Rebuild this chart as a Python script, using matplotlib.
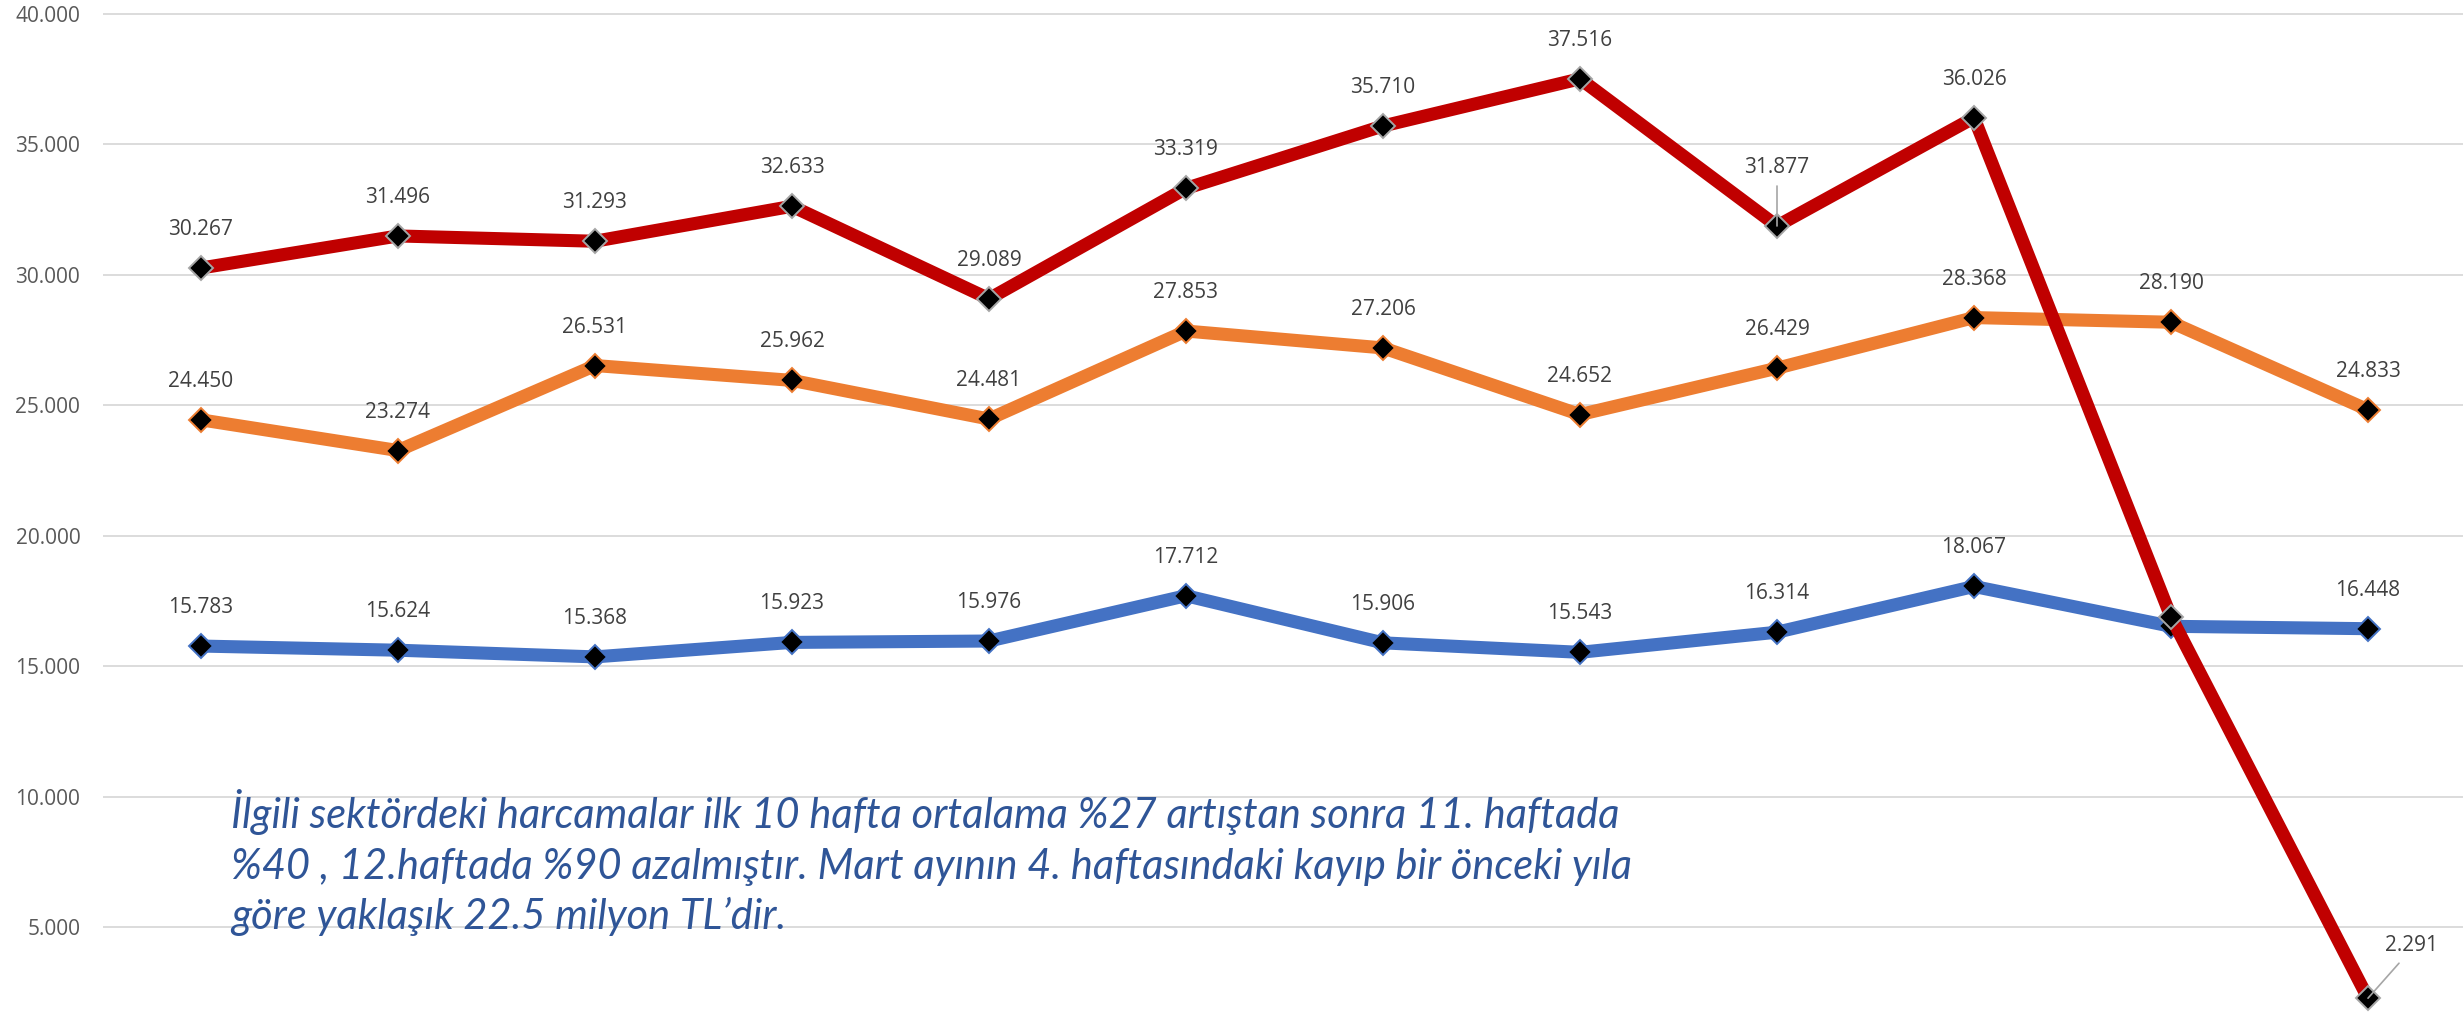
import matplotlib
matplotlib.use("Agg")
import matplotlib.pyplot as plt
from matplotlib.ticker import FixedLocator, FuncFormatter

# ---------------- data ----------------
weeks = list(range(1, 13))
red_vals = [30267, 31496, 31293, 32633, 29089, 33319, 35710, 37516, 31877, 36026, 16900, 2291]
orange_vals = [24450, 23274, 26531, 25962, 24481, 27853, 27206, 24652, 26429, 28368, 28190, 24833]
blue_vals = [15783, 15624, 15368, 15923, 15976, 17712, 15906, 15543, 16314, 18067, 16540, 16448]
red_show = [True] * 10 + [False, True]
orange_show = [True] * 12
blue_show = [True] * 10 + [False, True]
y_ticks = [5000, 10000, 15000, 20000, 25000, 30000, 35000, 40000]
note_lines = [
    "İlgili sektördeki harcamalar ilk 10 hafta ortalama %27 artıştan sonra 11. haftada",
    "%40 , 12.haftada %90 azalmıştır. Mart ayının 4. haftasındaki kayıp bir önceki yıla",
    "göre yaklaşık 22.5 milyon TL’dir.",
]

# ---------------- style ----------------
W, H = 2463, 1013
RED, ORANGE, BLUE = "#C00000", "#ED7D31", "#4472C4"
GRID = "#D9D9D9"
TICK_C = "#595959"
LAB_C = "#404040"
NOTE_C = "#2F5597"
NUM_FONT = "Open Sans"
NOTE_FONT = "Lato"
NUM_SIZE = 15

fmt = lambda v: f"{int(v):,}".replace(",", ".")

fig = plt.figure(figsize=(W / 100, H / 100), dpi=100)
ax = fig.add_axes([102.5 / W, 0, 2364 / W, 1])
ax.set_xlim(-0.5, 11.5)
ax.set_ylim(1724, 40536)

for s in ax.spines.values():
    s.set_visible(False)
ax.yaxis.set_major_locator(FixedLocator(y_ticks))
ax.yaxis.set_major_formatter(FuncFormatter(lambda v, p: fmt(v)))
ax.tick_params(axis="y", length=0, pad=16, labelsize=NUM_SIZE, labelcolor=TICK_C)
for t in ax.get_yticklabels():
    t.set_fontfamily(NUM_FONT)
ax.set_xticks([])
ax.grid(axis="y", color=GRID, linewidth=1.3)
ax.set_axisbelow(True)

xs = list(range(len(weeks)))
series = [
    (blue_vals, BLUE, BLUE, blue_show),
    (orange_vals, ORANGE, ORANGE, orange_show),
    (red_vals, RED, "#A5A5A5", red_show),
]
for vals, col, edge, show in series:
    ax.plot(xs, vals, color=col, linewidth=9.4, solid_joinstyle="round",
            solid_capstyle="butt", marker="D", markersize=12,
            markerfacecolor="black", markeredgecolor=edge, markeredgewidth=1.4,
            zorder=3)

def px2pt(p):
    return p * 72 / 100

special = {}
special[("red", 8)] = dict(dx=0, dy=59, leader=((0, 40), (0, 0)))
special[("red", 11)] = dict(dx=44, dy=53, leader=((31, 35), (0, 0)))

for name, (vals, col, edge, show) in zip(["blue", "orange", "red"], series):
    for i, v in enumerate(vals):
        if not show[i]:
            continue
        sp = special.get((name, i))
        dx, dy = (0, 38.5) if sp is None else (sp["dx"], sp["dy"])
        ax.annotate(fmt(v), xy=(i, v), xytext=(px2pt(dx), px2pt(dy)),
                    textcoords="offset points", ha="center", va="center",
                    fontsize=NUM_SIZE, color=LAB_C, family=NUM_FONT, zorder=6)
        if sp is not None:
            (sx, sy), _ = sp["leader"]
            ax.annotate("", xy=(i, v), xytext=(px2pt(sx), px2pt(sy)),
                        textcoords="offset points",
                        arrowprops=dict(arrowstyle="-", color="#A6A6A6",
                                        linewidth=1.2, shrinkA=0, shrinkB=0),
                        zorder=5)

# ---------------- note text ----------------
baselines = [828, 879, 929]
target_w = 1387
t0 = fig.text(0, 0, note_lines[0], fontsize=28, style="italic", family=NOTE_FONT)
fig.canvas.draw()
w0 = t0.get_window_extent().width
t0.remove()
fs = 28 * target_w / w0
for line, yb in zip(note_lines, baselines):
    fig.text(231 / W, 1 - yb / H, line, fontsize=fs, style="italic",
             family=NOTE_FONT, color=NOTE_C, va="baseline", ha="left")

fig.savefig("out.png", dpi=100)
